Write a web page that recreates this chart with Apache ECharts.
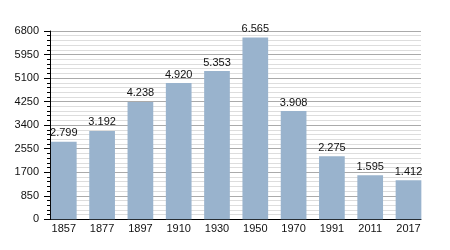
<!DOCTYPE html>
<html><head><meta charset="utf-8">
<script src="https://cdn.jsdelivr.net/npm/echarts@6/dist/echarts.min.js"></script>
<style>html,body{margin:0;padding:0;background:#fff}#c{width:450px;height:250px}</style>
</head><body><div id="c"></div>
<script>
var years = ['1857','1877','1897','1910','1930','1950','1970','1991','2011','2017'];
var population = [2799,3192,4238,4920,5353,6565,3908,2275,1595,1412];
var yTicks = [0,850,1700,2550,3400,4250,5100,5950,6800];

function fmt(v){ return String(v).replace(/\B(?=(\d{3})+(?!\d))/g,'.'); }
var font = 'Liberation Sans';
var chart = echarts.init(document.getElementById('c'), null, {renderer:'canvas'});
chart.setOption({
  animation:false,
  grid:[
    {left:50, top:31, width:371, height:188.3},
    {left:44.65, top:31, width:383, height:188.3}
  ],
  xAxis:[
    {gridIndex:0, type:'value', min:0, max:1, show:true,
     axisLine:{show:true, lineStyle:{color:'#000', width:1}},
     axisTick:{show:false}, axisLabel:{show:false}, splitLine:{show:false}},
    {gridIndex:1, type:'category', data:years,
     axisLine:{show:false}, axisTick:{show:false},
     axisLabel:{margin:4, fontFamily:font, fontSize:11, color:'#111'}}
  ],
  yAxis:[
    {gridIndex:0, type:'value', min:yTicks[0], max:yTicks[yTicks.length-1], interval:850,
     axisLine:{show:true, onZero:false, lineStyle:{color:'#000', width:1}},
     axisTick:{show:true, inside:false, length:6, lineStyle:{color:'#000', width:1}},
     minorTick:{show:true, splitNumber:5, length:3, lineStyle:{color:'#000', width:1}},
     splitLine:{show:true, lineStyle:{color:'#aaaaaa', width:1}},
     minorSplitLine:{show:true, lineStyle:{color:'#dddddd', width:1}},
     axisLabel:{margin:11, fontFamily:font, fontSize:11, color:'#111',
       formatter:function(v){return String(v);}}},
    {gridIndex:1, type:'value', min:0, max:6800, show:false, splitLine:{show:false}}
  ],
  series:[{
    type:'bar', xAxisIndex:1, yAxisIndex:1, data:population, barWidth:25.7,
    itemStyle:{color:'#99b3cd'},
    label:{show:true, position:'top', distance:3, fontFamily:font, fontSize:11, color:'#111',
      formatter:function(p){return fmt(p.value);}}
  }]
});
</script></body></html>
